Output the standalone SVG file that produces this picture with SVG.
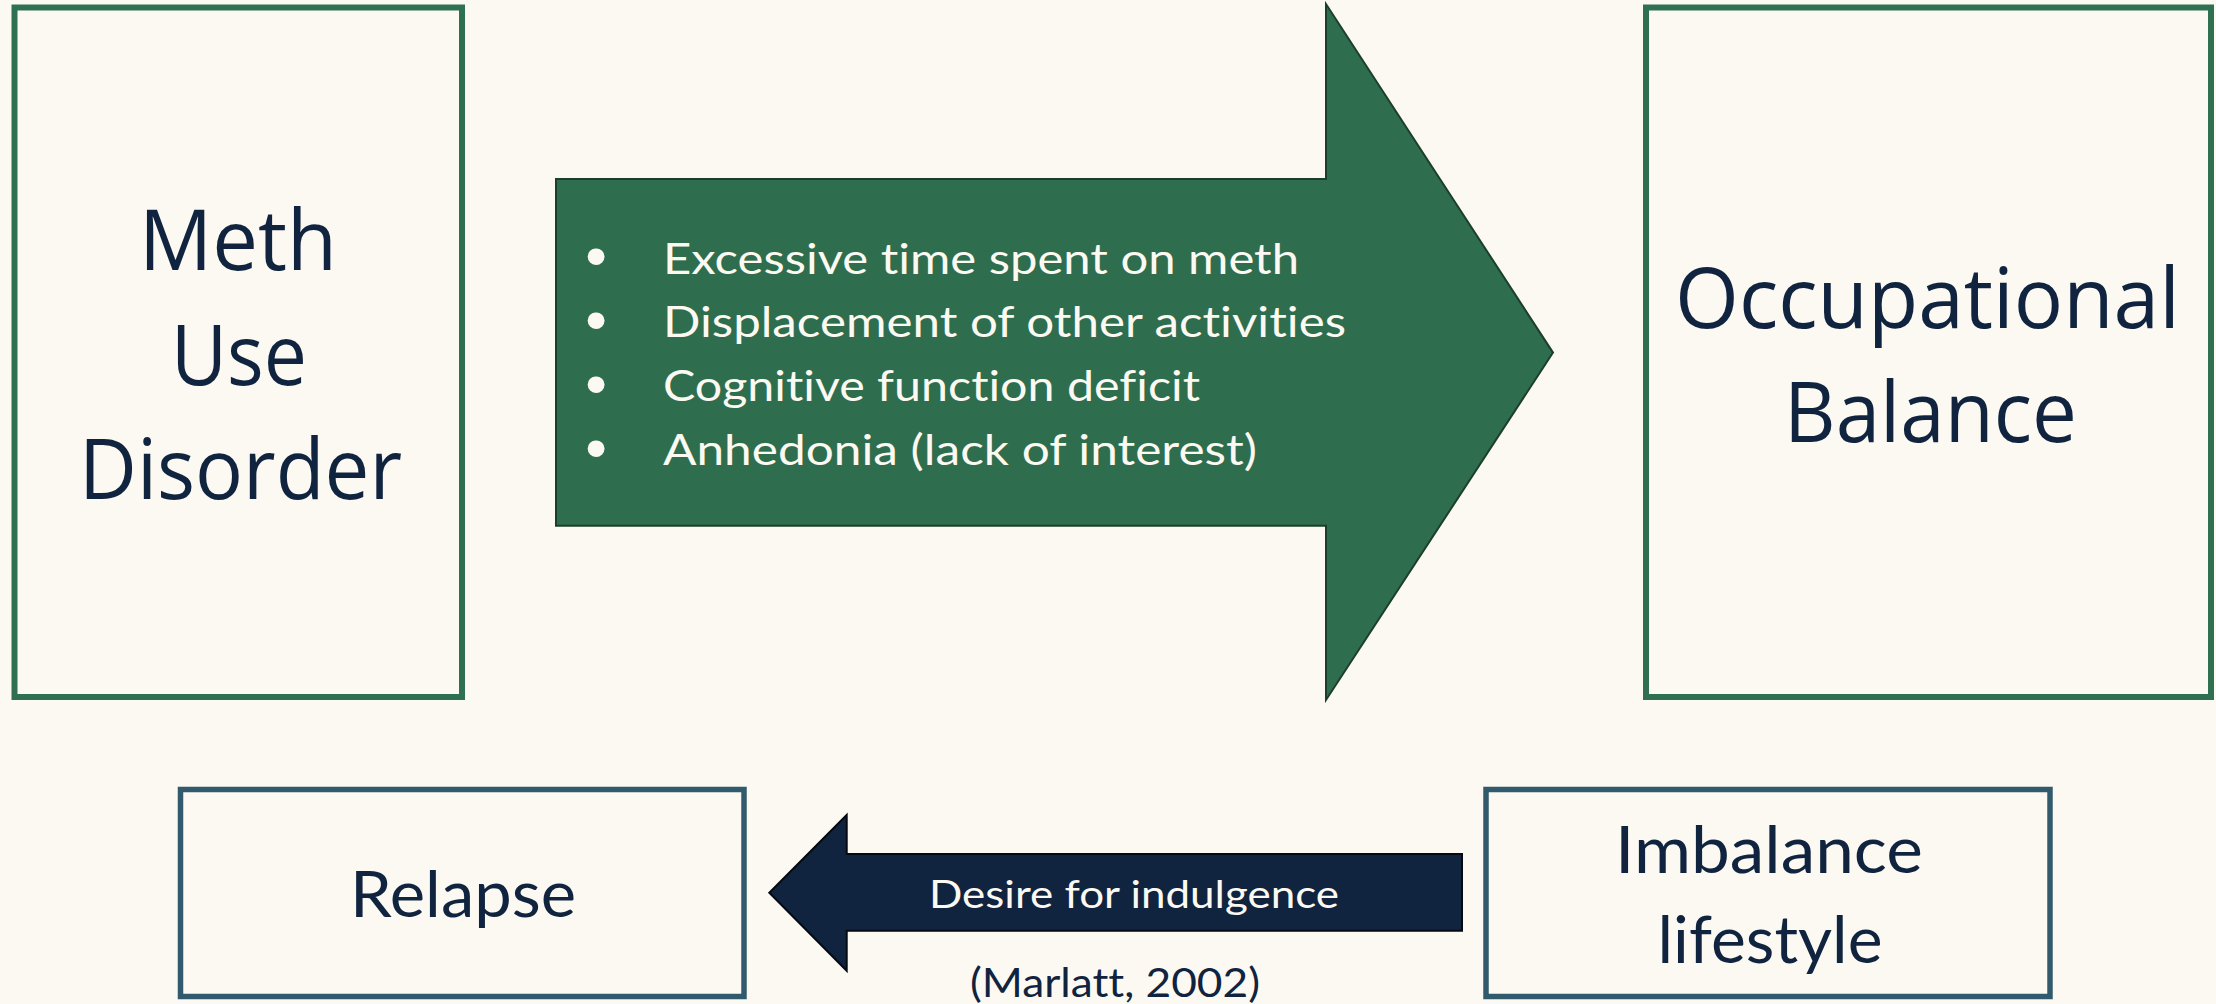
<svg xmlns="http://www.w3.org/2000/svg" width="2216" height="1004" viewBox="0 0 2216 1004">
<style>
text{font-variant-ligatures:none;font-feature-settings:"liga" 0,"clig" 0}
.big{font-family:"Open Sans","Noto Sans",sans-serif;font-size:85px;fill:#10243F;text-anchor:middle}
.mid{font-family:Lato,"Liberation Sans",sans-serif;fill:#10243F;text-anchor:middle}
.bul{font-family:Lato,"Liberation Sans",sans-serif;font-size:43px;fill:#FCF9F2}
.dot{font-family:"Liberation Sans",sans-serif;font-size:62px;fill:#FCF9F2;text-anchor:middle}
.gbox{fill:#FCF9F2;stroke:#2E7050;stroke-width:6}
.bbox{fill:#FCF9F2;stroke:#315B6D;stroke-width:5.5}
</style>
<rect width="2216" height="1004" fill="#FCF9F2"/>
<g id="node-meth">
<rect class="gbox" x="14.5" y="7.5" width="447.5" height="689.5"/>
<text class="big" x="238" y="270" textLength="198" lengthAdjust="spacingAndGlyphs">Meth</text>
<text class="big" x="239" y="385" textLength="136" lengthAdjust="spacingAndGlyphs">Use</text>
<text class="big" x="240.5" y="499" textLength="323" lengthAdjust="spacingAndGlyphs">Disorder</text>
</g>
<g id="node-balance">
<rect class="gbox" x="1646" y="7.5" width="565" height="689.5"/>
<text class="big" x="1927.5" y="328" textLength="505" lengthAdjust="spacingAndGlyphs">Occupational</text>
<text class="big" x="1930.5" y="442" textLength="293" lengthAdjust="spacingAndGlyphs">Balance</text>
</g>
<g id="node-relapse">
<rect class="bbox" x="180.5" y="789.5" width="563.5" height="207"/>
<text class="mid" x="463" y="916.7" font-size="63" textLength="226" lengthAdjust="spacingAndGlyphs">Relapse</text>
</g>
<g id="node-imbalance">
<rect class="bbox" x="1486" y="789.5" width="564" height="207"/>
<text class="mid" x="1769" y="872.7" font-size="66" textLength="308" lengthAdjust="spacingAndGlyphs">Imbalance</text>
<text class="mid" x="1770" y="962.7" font-size="66" textLength="225" lengthAdjust="spacingAndGlyphs">lifestyle</text>
</g>
<g id="connectors">
<g id="arrow-effects">
<polygon points="556,179 1326,179 1326,4 1553,352.6 1326,700 1326,525.7 556,525.7" fill="#2E6E4E" stroke="#1C3F2D" stroke-width="2"/>
<text class="dot" x="596" y="277">•</text>
<text class="dot" x="596" y="341">•</text>
<text class="dot" x="596" y="405">•</text>
<text class="dot" x="596" y="469">•</text>
<text class="bul" x="663" y="273.5" textLength="636" lengthAdjust="spacingAndGlyphs">Excessive time spent on meth</text>
<text class="bul" x="663" y="337.3" textLength="683" lengthAdjust="spacingAndGlyphs">Displacement of other activities</text>
<text class="bul" x="663" y="401" textLength="537" lengthAdjust="spacingAndGlyphs">Cognitive function deficit</text>
<text class="bul" x="663" y="464.7" textLength="594" lengthAdjust="spacingAndGlyphs">Anhedonia (lack of interest)</text>
</g>
<g id="arrow-relapse">
<polygon points="1462,854 846.7,854 846.7,815 769.3,892.7 846.7,970.7 846.7,930.7 1462,930.7" fill="#10243F" stroke="#050A12" stroke-width="2"/>
<text x="929" y="908.3" font-family="Lato,'Liberation Sans',sans-serif" font-size="38.5" fill="#FCF9F2" textLength="410" lengthAdjust="spacingAndGlyphs">Desire for indulgence</text>
</g>
</g>
<text class="mid" x="1115" y="996.7" font-size="40" textLength="290" lengthAdjust="spacingAndGlyphs">(Marlatt, 2002)</text>
</svg>
